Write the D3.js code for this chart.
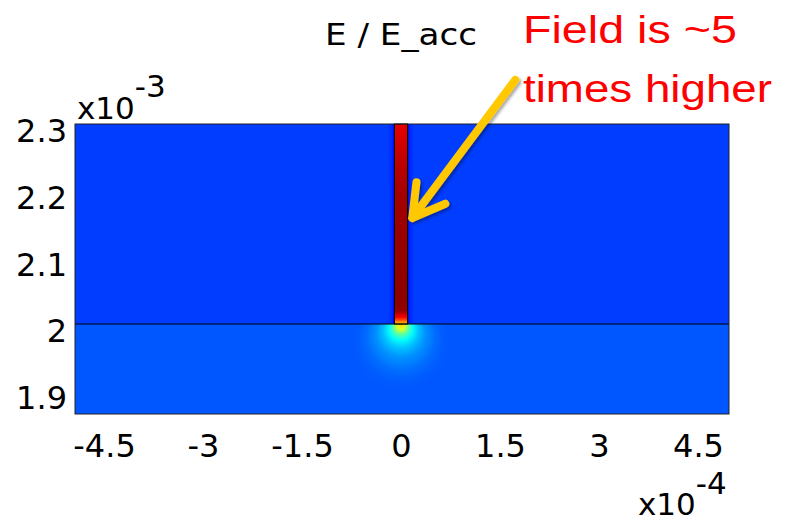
<!DOCTYPE html>
<html>
<head>
<meta charset="utf-8">
<script src="https://cdn.jsdelivr.net/npm/d3@7"></script>
<style>
  body { margin: 0; background: #fff; }
  text { font-family: "DejaVu Sans", Verdana, sans-serif; }
</style>
</head>
<body>
<div id="chart"></div>
<script>
// axis ticks (x in 1e-4 m, y in 1e-3 m)
const xTicks = [-4.5, -3, -1.5, 0, 1.5, 3, 4.5];
const yTicks = [1.9, 2, 2.1, 2.2, 2.3];

// field E / E_acc
const vacuumE = 1.0;      // above the interface, away from the column
const substrateE = 1.13;  // below the interface
const colY = [2.3, 2.25, 2.2, 2.1, 2.04, 2.02, 2.01, 2.004, 2.0];
const colE = [4.85, 5.05, 5.2, 5.3, 5.33, 5.3, 4.75, 4.1, 3.6];
// glow under the column tip: distance below the tip (1e-3 m) and field
const glowR = [0, 0.008, 0.016, 0.024, 0.036, 0.05, 0.07, 0.085, 0.1];
const glowE = [3.6, 3.2, 2.5, 2.05, 1.7, 1.45, 1.25, 1.17, 1.13];
// darker band of vacuum next to the column: distance from column (1e-4 m) and field
const haloD = [0, 0.04, 0.1];
const haloE = [0.72, 0.88, 1.0];
const colHalf = 0.1;      // column half width, 1e-4 m
const eMax = 5.4;

const width = 795, height = 522;
const plot = {left: 75, right: 729, top: 124, bottom: 414};

const svg = d3.select('#chart').append('svg')
    .attr('width', width)
    .attr('height', height);

const x = d3.scaleLinear().domain([-4.94, 4.97]).range([plot.left, plot.right]);
const y = d3.scaleLinear().domain([1.865, 2.3]).range([plot.bottom, plot.top]);

// jet colour map
const jet = d3.scaleLinear()
    .domain([0, .125, .375, .625, .875, 1].map(t => t * eMax))
    .range(['#000080', '#0000ff', '#00ffff', '#ffff00', '#ff0000', '#800000'])
    .clamp(true);

const defs = svg.append('defs');

defs.append('clipPath').attr('id', 'lowClip')
    .append('rect')
    .attr('x', plot.left).attr('y', y(2.0))
    .attr('width', plot.right - plot.left)
    .attr('height', plot.bottom - y(2.0));

// column gradient
const colGrad = defs.append('linearGradient')
    .attr('id', 'colGrad')
    .attr('gradientUnits', 'userSpaceOnUse')
    .attr('x1', 0).attr('x2', 0)
    .attr('y1', y(2.3)).attr('y2', y(2.0));
colGrad.selectAll('stop')
    .data(colY.map((v, i) => ({y: v, e: colE[i]})))
    .join('stop')
    .attr('offset', d => (y(d.y) - y(2.3)) / (y(2.0) - y(2.3)))
    .attr('stop-color', d => jet(d.e));

// glow gradient: focus at the tip, circle centred a little below it
const gMax = glowR[glowR.length - 1];
const glowCy = y(2.0 - gMax * 0.27);
const glowRad = y(2.0 - gMax) - glowCy;
const glowGrad = defs.append('radialGradient')
    .attr('id', 'glowGrad')
    .attr('gradientUnits', 'userSpaceOnUse')
    .attr('cx', x(0)).attr('cy', glowCy).attr('r', glowRad)
    .attr('fx', x(0)).attr('fy', y(2.0));
glowGrad.selectAll('stop')
    .data(glowR.map((r, i) => ({r: r, e: glowE[i]})))
    .join('stop')
    .attr('offset', d => d.r / gMax)
    .attr('stop-color', d => jet(d.e));

// halo gradients either side of the column
[['haloL', -1], ['haloR', 1]].forEach(([id, s]) => {
    const g = defs.append('linearGradient')
        .attr('id', id)
        .attr('gradientUnits', 'userSpaceOnUse')
        .attr('y1', 0).attr('y2', 0)
        .attr('x1', x(s * colHalf))
        .attr('x2', x(s * (colHalf + haloD[haloD.length - 1])));
    g.selectAll('stop')
        .data(haloD.map((d, i) => ({d: d, e: haloE[i]})))
        .join('stop')
        .attr('offset', d => d.d / haloD[haloD.length - 1])
        .attr('stop-color', d => jet(d.e));
});

// arrow shadow
defs.append('filter').attr('id', 'shadow')
    .attr('x', '-20%').attr('y', '-20%').attr('width', '140%').attr('height', '140%')
    .append('feDropShadow')
    .attr('dx', 2).attr('dy', 2).attr('stdDeviation', 1.5)
    .attr('flood-color', '#000').attr('flood-opacity', 0.35);

// vacuum region
svg.append('rect')
    .attr('x', plot.left).attr('y', y(2.3))
    .attr('width', plot.right - plot.left)
    .attr('height', y(2.0) - y(2.3))
    .attr('fill', jet(vacuumE));

// halo beside the column
svg.append('rect')
    .attr('x', x(-colHalf - haloD[haloD.length - 1])).attr('y', y(2.3))
    .attr('width', x(-colHalf) - x(-colHalf - haloD[haloD.length - 1]))
    .attr('height', y(2.0) - y(2.3))
    .attr('fill', 'url(#haloL)');
svg.append('rect')
    .attr('x', x(colHalf)).attr('y', y(2.3))
    .attr('width', x(colHalf + haloD[haloD.length - 1]) - x(colHalf))
    .attr('height', y(2.0) - y(2.3))
    .attr('fill', 'url(#haloR)');

// substrate region
svg.append('rect')
    .attr('x', plot.left).attr('y', y(2.0))
    .attr('width', plot.right - plot.left)
    .attr('height', plot.bottom - y(2.0))
    .attr('fill', jet(substrateE));

svg.append('circle')
    .attr('clip-path', 'url(#lowClip)')
    .attr('cx', x(0)).attr('cy', glowCy).attr('r', glowRad)
    .attr('fill', 'url(#glowGrad)');

// column
svg.append('rect')
    .attr('x', x(-colHalf)).attr('y', y(2.3))
    .attr('width', x(colHalf) - x(-colHalf))
    .attr('height', y(2.0) - y(2.3))
    .attr('fill', 'url(#colGrad)')
    .attr('stroke', '#000').attr('stroke-width', 1);

// interface line
svg.append('line')
    .attr('x1', plot.left).attr('x2', plot.right)
    .attr('y1', y(2.0)).attr('y2', y(2.0))
    .attr('stroke', '#000').attr('stroke-width', 1.2);

// frame
svg.append('rect')
    .attr('x', plot.left).attr('y', plot.top)
    .attr('width', plot.right - plot.left)
    .attr('height', plot.bottom - plot.top)
    .attr('fill', 'none')
    .attr('stroke', '#222').attr('stroke-width', 1);

// axes
const xAxis = svg.append('g')
    .attr('transform', `translate(0,${plot.bottom})`)
    .call(d3.axisBottom(x).tickValues(xTicks).tickSize(0).tickPadding(20)
        .tickFormat(d => String(d)));
const yAxis = svg.append('g')
    .attr('transform', `translate(${plot.left},0)`)
    .call(d3.axisLeft(y).tickValues(yTicks).tickSize(0).tickPadding(8)
        .tickFormat(d => String(d)));
yAxis.selectAll('text').attr('dy', '0.56em');
[xAxis, yAxis].forEach(a => {
    a.select('.domain').remove();
    a.selectAll('text')
        .attr('fill', '#000')
        .style('font-family', '"DejaVu Sans", Verdana, sans-serif')
        .style('font-size', '32px');
});

// exponents
const expY = svg.append('text').attr('x', 77).attr('y', 119)
    .style('font-size', '31px').text('x10');
expY.append('tspan').attr('dy', -22).text('-3');

const expX = svg.append('text').attr('x', 638).attr('y', 515)
    .style('font-size', '31px').text('x10');
expX.append('tspan').attr('dy', -21).text('-4');

// title
svg.append('text')
    .attr('x', 325).attr('y', 45)
    .attr('textLength', 152).attr('lengthAdjust', 'spacingAndGlyphs')
    .style('font-size', '31px')
    .text('E / E_acc');

// annotation
const note = ['Field is ~5', 'times higher'];
const noteLen = [214, 249];
svg.selectAll('text.note')
    .data(note)
    .join('text')
    .attr('class', 'note')
    .attr('x', 523)
    .attr('y', (d, i) => 43 + i * 59)
    .attr('textLength', (d, i) => noteLen[i])
    .attr('lengthAdjust', 'spacingAndGlyphs')
    .attr('fill', '#ff0000')
    .style('font-family', '"Liberation Sans", Arial, sans-serif')
    .style('font-size', '39px')
    .text(d => d);

// arrow pointing at the column (data coordinates)
const tail = [x(1.73), y(2.366)];
const tip = [x(0.17), y(2.159)];
const ang = Math.atan2(tail[1] - tip[1], tail[0] - tip[0]);
const headLen = 36, spread = Math.PI / 6;
const wing = a => [tip[0] + headLen * Math.cos(a), tip[1] + headLen * Math.sin(a)];
const w1 = wing(ang + spread), w2 = wing(ang - spread);

svg.append('path')
    .attr('d', `M${tail}L${tip}M${w1}L${tip}L${w2}`)
    .attr('fill', 'none')
    .attr('stroke', '#ffc800')
    .attr('stroke-width', 8)
    .attr('stroke-linecap', 'round')
    .attr('stroke-linejoin', 'round')
    .attr('filter', 'url(#shadow)');
</script>
</body>
</html>
